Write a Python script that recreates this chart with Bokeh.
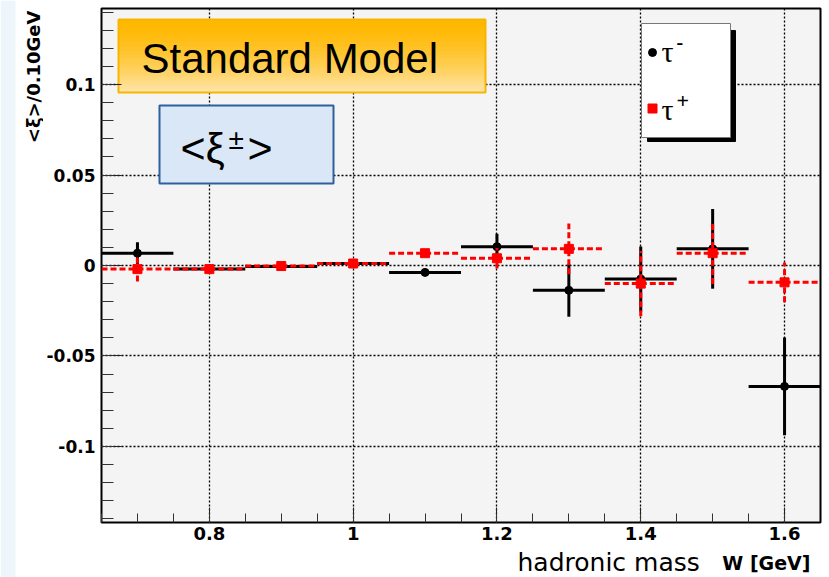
from math import pi

from bokeh.embed import file_html
from bokeh.layouts import column, row
from bokeh.models import CustomJSTickFormatter, Label, Range1d, SingleIntervalTicker
from bokeh.plotting import figure
from bokeh.resources import INLINE

# ---- data: mean xi per 0.10 GeV bin of hadronic mass W ----
w_center = [0.7, 0.8, 0.9, 1.0, 1.1, 1.2, 1.3, 1.4, 1.5, 1.6]
bin_half_width = 0.05

xi_tau_minus = [0.0068, -0.0020, -0.0005, 0.0011, -0.0038, 0.0104, -0.0137, -0.0075, 0.0092, -0.0668]
xi_tau_minus_err = [0.0060, 0.0010, 0.0008, 0.0008, 0.0010, 0.0072, 0.0146, 0.0180, 0.0220, 0.0270]

xi_tau_plus = [-0.0020, -0.0020, -0.0003, 0.0011, 0.0068, 0.0040, 0.0092, -0.0100, 0.0068, -0.0093]
xi_tau_plus_err = [0.0068, 0.0010, 0.0008, 0.0008, 0.0010, 0.0057, 0.0140, 0.0180, 0.0170, 0.0110]

x_ticks_step = 0.2
y_ticks_step = 0.05

X_MIN, X_MAX = 0.65, 1.65
Y_MIN, Y_MAX = -0.142, 0.142

# page geometry in pixels
PAGE_W, PAGE_H = 829, 577
SIDE_W = 43                       # left column holding the y title
TINT_W = 15                       # tinted strip at the far left
MAIN_H = 547                      # main figure height, x titles sit below it
F_LEFT, F_RIGHT, F_TOP, F_BOTTOM = 101, 820, 8, 522

# ---- left column: tinted strip + y-axis title (coordinates: page pixels, y up) ----
side = figure(width=SIDE_W, height=PAGE_H, output_backend="svg", toolbar_location=None,
              x_range=Range1d(0, SIDE_W), y_range=Range1d(0, PAGE_H), min_border=0)
side.axis.visible = False
side.grid.visible = False
side.outline_line_color = None
side.background_fill_color = "white"
side.border_fill_color = "white"
side.quad(left=[0], right=[TINT_W], bottom=[0], top=[PAGE_H], fill_color="#eef6fb", line_color=None)
side.add_layout(Label(x=32.5, y=PAGE_H - 10, text="<ξ>/0.10GeV", angle=pi / 2, text_align="right",
                      text_baseline="middle", text_font="DejaVu Sans", text_font_style="bold",
                      text_font_size="18px", text_color="black"))

# ---- main plot ----
p = figure(width=PAGE_W - SIDE_W, height=MAIN_H, output_backend="svg", toolbar_location=None,
           x_range=Range1d(X_MIN, X_MAX), y_range=Range1d(Y_MIN, Y_MAX),
           min_border_left=F_LEFT - SIDE_W, min_border_right=PAGE_W - F_RIGHT,
           min_border_top=F_TOP, min_border_bottom=MAIN_H - F_BOTTOM)

p.background_fill_color = "#f4f4f4"
p.border_fill_color = "white"
p.outline_line_color = "black"
p.outline_line_width = 2


def dx(px):
    return X_MIN + (px - F_LEFT) / (F_RIGHT - F_LEFT) * (X_MAX - X_MIN)


def dy(py):
    return Y_MAX - (py - F_TOP) / (F_BOTTOM - F_TOP) * (Y_MAX - Y_MIN)


# axes
fmt = CustomJSTickFormatter(code="return String(Math.round(tick*100)/100)")
p.xaxis.ticker = SingleIntervalTicker(interval=x_ticks_step, num_minor_ticks=4)
p.yaxis.ticker = SingleIntervalTicker(interval=y_ticks_step, num_minor_ticks=5)
for ax in (p.xaxis[0], p.yaxis[0]):
    ax.formatter = fmt
    ax.axis_line_color = None
    ax.major_tick_out = 0
    ax.minor_tick_out = 0
    ax.major_tick_line_color = "#222222"
    ax.minor_tick_line_color = "#333333"
    ax.major_label_text_font = "DejaVu Sans"
    ax.major_label_text_font_style = "bold"
    ax.major_label_text_color = "black"
p.xaxis.major_label_text_font_size = "18px"
p.yaxis.major_label_text_font_size = "17px"
p.xaxis.major_tick_in = 15
p.xaxis.minor_tick_in = 9
p.yaxis.major_tick_in = 20
p.yaxis.minor_tick_in = 12
p.xaxis.major_label_standoff = 4
p.yaxis.major_label_standoff = 6

for g in (p.xgrid[0], p.ygrid[0]):
    g.grid_line_color = "black"
    g.grid_line_dash = "2 2"
    g.grid_line_width = 1.3

# ---- error bars: tau- (black, solid) ----
lo_edge = [w - bin_half_width for w in w_center]
hi_edge = [w + bin_half_width for w in w_center]
p.segment(lo_edge, xi_tau_minus, hi_edge, xi_tau_minus, line_color="black", line_width=3)
p.segment(w_center, [v - e for v, e in zip(xi_tau_minus, xi_tau_minus_err)],
          w_center, [v + e for v, e in zip(xi_tau_minus, xi_tau_minus_err)],
          line_color="black", line_width=3)
p.scatter(w_center, xi_tau_minus, marker="circle", size=8, fill_color="black", line_color="black")

# ---- error bars: tau+ (red, dashed) ----
p.segment(lo_edge, xi_tau_plus, hi_edge, xi_tau_plus, line_color="#ff0000", line_width=3, line_dash="6 3")
p.segment(w_center, [v - e for v, e in zip(xi_tau_plus, xi_tau_plus_err)],
          w_center, [v + e for v, e in zip(xi_tau_plus, xi_tau_plus_err)],
          line_color="#ff0000", line_width=3, line_dash="6 3")
p.scatter(w_center, xi_tau_plus, marker="square", size=9, fill_color="#ff0000", line_color="#ff0000")

# ---- "Standard Model" banner with vertical orange gradient ----
n_slices = 30
top_px, bot_px = 19, 92
lefts, rights, tops, bottoms, colors = [], [], [], [], []
c_top = (255, 184, 0)
c_bot = (255, 229, 170)
for i in range(n_slices):
    t = (i + 0.5) / n_slices
    f = t ** 1.6
    col = tuple(int(round(a + (b - a) * f)) for a, b in zip(c_top, c_bot))
    y_a = top_px + (bot_px - top_px) * i / n_slices
    y_b = top_px + (bot_px - top_px) * (i + 1) / n_slices
    lefts.append(dx(118)); rights.append(dx(485))
    tops.append(dy(y_a)); bottoms.append(dy(y_b))
    colors.append("#%02x%02x%02x" % col)
p.quad(left=lefts, right=rights, top=tops, bottom=bottoms, fill_color=colors, line_color=colors, line_width=1)
p.quad(left=[dx(118)], right=[dx(485)], top=[dy(19)], bottom=[dy(92)],
       fill_color=None, line_color="#f7b500", line_width=2)
p.add_layout(Label(x=dx(141), y=dy(58), text="Standard Model", text_font="Liberation Sans",
                   text_font_size="42px", text_color="black", text_baseline="middle"))

# ---- <xi±> box ----
p.quad(left=[dx(159)], right=[dx(333)], top=[dy(105)], bottom=[dy(183)],
       fill_color="#dae7f7", line_color="#2f5f9f", line_width=2)
p.add_layout(Label(x=dx(180), y=dy(147), text="<ξ", text_font="Liberation Sans",
                   text_font_size="43px", text_color="black", text_baseline="middle"))
p.add_layout(Label(x=dx(228), y=dy(139), text="±", text_font="Liberation Sans",
                   text_font_size="28px", text_color="black", text_baseline="middle"))
p.add_layout(Label(x=dx(247), y=dy(147), text=">", text_font="Liberation Sans",
                   text_font_size="43px", text_color="black", text_baseline="middle"))

# ---- legend box with drop shadow ----
p.quad(left=[dx(647)], right=[dx(735)], top=[dy(30)], bottom=[dy(141)],
       fill_color="black", line_color="black")
p.quad(left=[dx(641)], right=[dx(730)], top=[dy(23)], bottom=[dy(137)],
       fill_color="white", line_color="#777777", line_width=1)
p.scatter([dx(652)], [dy(52)], marker="circle", size=8, fill_color="black", line_color="black")
p.scatter([dx(652)], [dy(108)], marker="square", size=9, fill_color="#ff0000", line_color="#ff0000")
for txt, px, py, size in [("τ", 661, 51, "30px"), ("-", 676, 41, "20px"),
                          ("τ", 661, 109, "30px"), ("+", 676, 100, "22px")]:
    p.add_layout(Label(x=dx(px), y=dy(py), text=txt, text_font="Liberation Serif",
                       text_font_size=size, text_color="black", text_baseline="middle",
                       text_font_style="bold" if txt in "+-" else "normal"))

# ---- x-axis titles below the main plot (coordinates: page pixels, y up) ----
BOT_H = PAGE_H - MAIN_H
bottom = figure(width=PAGE_W - SIDE_W, height=BOT_H, output_backend="svg",
                toolbar_location=None, x_range=Range1d(SIDE_W, PAGE_W),
                y_range=Range1d(0, BOT_H), min_border=0)
bottom.axis.visible = False
bottom.grid.visible = False
bottom.outline_line_color = None
bottom.background_fill_color = "white"
bottom.border_fill_color = "white"
bottom.add_layout(Label(x=697, y=PAGE_H - 562, text="hadronic mass", text_font="DejaVu Sans",
                        text_font_size="25px", text_color="black", text_align="right",
                        text_baseline="middle"))
bottom.add_layout(Label(x=818, y=PAGE_H - 562, text="W [GeV]", text_font="DejaVu Sans",
                        text_font_style="bold", text_font_size="19px", text_color="black",
                        text_align="right", text_baseline="middle"))

layout = row(side, column(p, bottom))
open("out.html", "w").write(file_html(layout, INLINE))
